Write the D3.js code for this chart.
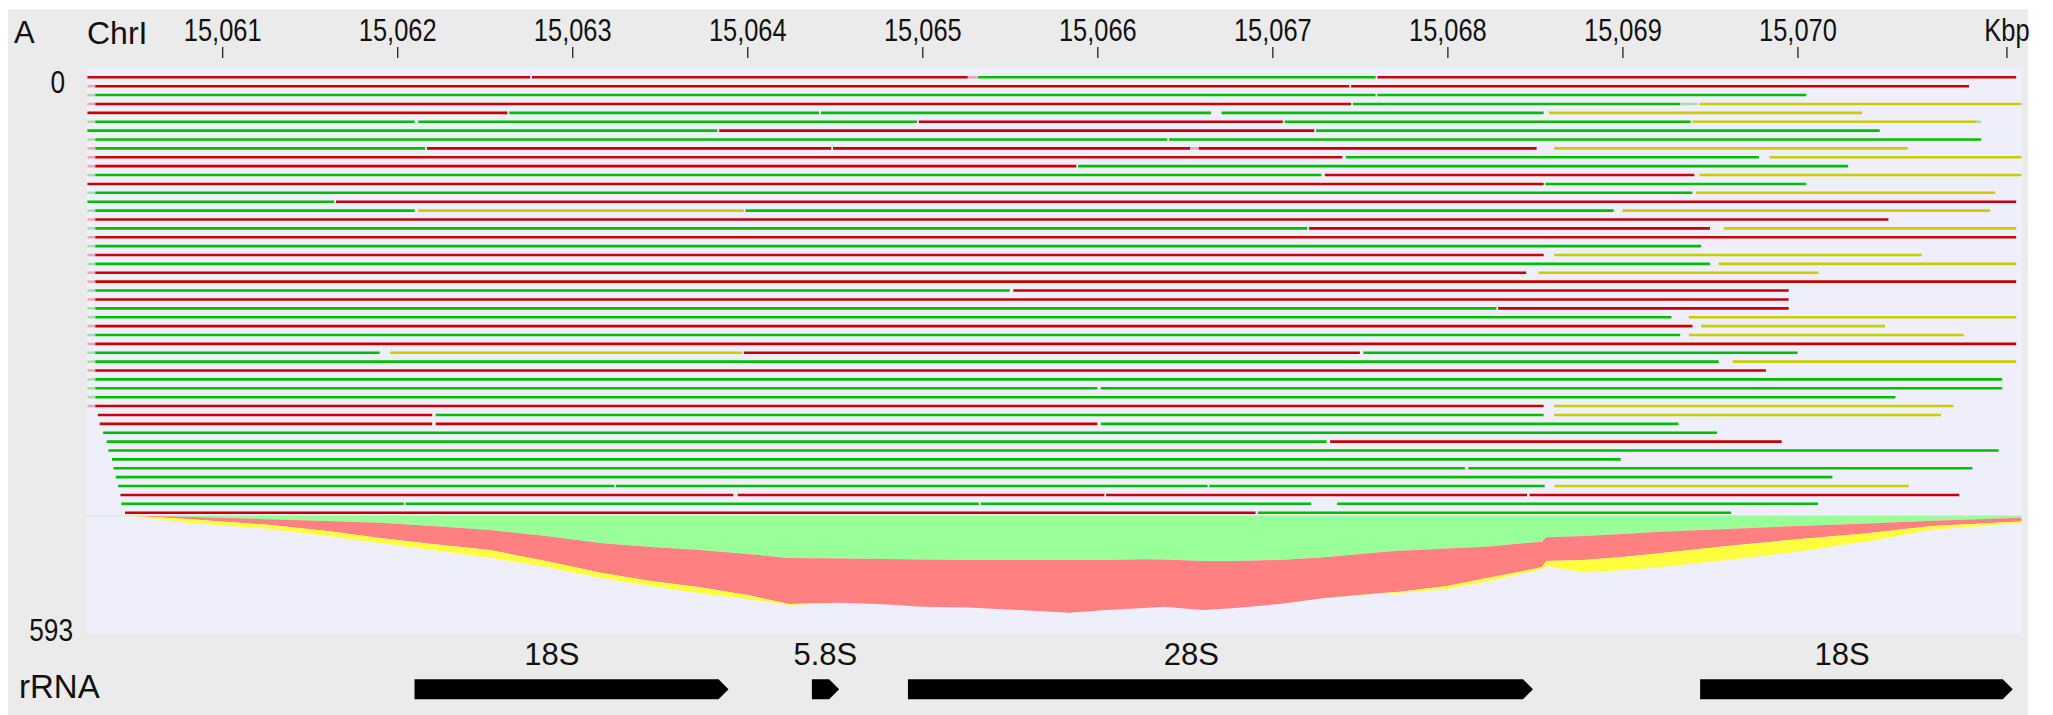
<!DOCTYPE html>
<html>
<head>
<meta charset="utf-8">
<script src="https://cdn.jsdelivr.net/npm/d3@7"></script>
<style>
  body { margin: 0; background: #fff; }
  svg { display: block; }
  text { font-family: "Liberation Sans", Arial, sans-serif; fill: #111; }
</style>
</head>
<body>
<div id="chart"></div>
<script>
// Read pileup over the rDNA repeat, drawn with D3

// Genomic positions are kept in kb after 15,060 kbp
const origin = 15060;
const xDomain = [0.226, 11.283];
const tickKb = [15061, 15062, 15063, 15064, 15065, 15066, 15067, 15068, 15069, 15070];
const endTickKb = 15071.194;
const yTicks = [0, 593];

// Individual read rows: [start, end, type]
// r = red, g = green, y = yellow, pr / pg = faint (clipped) part
const readRows = [
  [[0.23, 2.76, 'r'], [2.77, 5.26, 'r'], [5.26, 5.32, 'pr'], [5.32, 7.59, 'g'], [7.60, 11.25, 'r']],
  [[0.23, 0.275, 'pr'], [0.275, 7.44, 'r'], [7.45, 10.98, 'r']],
  [[0.23, 0.275, 'pg'], [0.275, 7.59, 'g'], [7.60, 10.05, 'g']],
  [[0.23, 0.275, 'pr'], [0.275, 7.45, 'r'], [7.46, 9.33, 'g'], [9.33, 9.43, 'pg'], [9.44, 11.28, 'y']],
  [[0.23, 2.63, 'r'], [2.64, 4.41, 'g'], [4.42, 6.65, 'g'], [6.71, 8.55, 'g'], [8.58, 10.37, 'y']],
  [[0.23, 0.275, 'pg'], [0.275, 2.10, 'g'], [2.12, 4.97, 'g'], [4.98, 7.06, 'r'], [7.07, 9.39, 'g'], [9.40, 11.02, 'y'], [11.02, 11.05, 'pg']],
  [[0.23, 3.83, 'g'], [3.84, 7.24, 'r'], [7.25, 10.47, 'g']],
  [[0.23, 0.275, 'pg'], [0.275, 6.40, 'g'], [6.41, 11.05, 'g']],
  [[0.23, 0.275, 'pr'], [0.275, 2.16, 'g'], [2.17, 4.48, 'r'], [4.49, 6.53, 'r'], [6.53, 6.58, 'pr'], [6.58, 8.51, 'r'], [8.61, 10.63, 'y']],
  [[0.23, 0.275, 'pr'], [0.275, 7.40, 'r'], [7.42, 9.78, 'g'], [9.84, 11.28, 'y']],
  [[0.23, 0.275, 'pr'], [0.275, 5.88, 'r'], [5.89, 10.29, 'g']],
  [[0.23, 0.275, 'pg'], [0.275, 7.28, 'g'], [7.30, 9.41, 'r'], [9.44, 11.28, 'y']],
  [[0.23, 8.55, 'r'], [8.56, 10.05, 'g']],
  [[0.23, 0.275, 'pg'], [0.275, 9.40, 'g'], [9.42, 11.13, 'y']],
  [[0.23, 1.64, 'g'], [1.65, 11.25, 'r']],
  [[0.23, 0.275, 'pg'], [0.275, 2.10, 'g'], [2.12, 3.98, 'y'], [3.99, 8.95, 'g'], [9.0, 11.10, 'y']],
  [[0.23, 0.275, 'pr'], [0.275, 10.52, 'r']],
  [[0.23, 0.275, 'pg'], [0.275, 7.20, 'g'], [7.21, 9.50, 'r'], [9.58, 11.25, 'y']],
  [[0.23, 0.275, 'pr'], [0.275, 11.25, 'r']],
  [[0.23, 0.275, 'pg'], [0.275, 9.45, 'g']],
  [[0.23, 0.275, 'pr'], [0.275, 8.55, 'r'], [8.61, 10.71, 'y']],
  [[0.23, 0.275, 'pg'], [0.275, 9.50, 'g'], [9.55, 11.25, 'y']],
  [[0.23, 0.275, 'pr'], [0.275, 8.45, 'r'], [8.52, 10.12, 'y']],
  [[0.23, 0.275, 'pr'], [0.275, 11.25, 'r']],
  [[0.23, 0.275, 'pg'], [0.275, 5.50, 'g'], [5.52, 9.95, 'r']],
  [[0.23, 0.275, 'pr'], [0.275, 9.95, 'r']],
  [[0.23, 0.275, 'pg'], [0.275, 8.28, 'g'], [8.29, 9.95, 'r']],
  [[0.23, 0.275, 'pg'], [0.275, 9.28, 'g'], [9.38, 11.25, 'y']],
  [[0.23, 0.275, 'pr'], [0.275, 9.40, 'r'], [9.45, 10.50, 'y']],
  [[0.23, 0.275, 'pg'], [0.275, 9.33, 'g'], [9.38, 10.95, 'y']],
  [[0.23, 0.275, 'pr'], [0.275, 11.25, 'r']],
  [[0.23, 0.275, 'pg'], [0.275, 1.90, 'g'], [1.96, 3.97, 'y'], [3.98, 7.50, 'r'], [7.52, 10.0, 'g']],
  [[0.23, 0.275, 'pg'], [0.275, 9.55, 'g'], [9.63, 11.25, 'y']],
  [[0.23, 0.275, 'pr'], [0.275, 9.82, 'r']],
  [[0.23, 0.275, 'pg'], [0.275, 11.17, 'g']],
  [[0.23, 0.275, 'pg'], [0.275, 6.0, 'g'], [6.02, 11.17, 'g']],
  [[0.23, 0.275, 'pg'], [0.275, 10.56, 'g']],
  [[0.23, 0.275, 'pr'], [0.275, 8.55, 'r'], [8.61, 10.89, 'y']],
  [[0.29, 2.20, 'r'], [2.22, 8.55, 'g'], [8.61, 10.82, 'y']],
  [[0.30, 2.20, 'r'], [2.22, 6.0, 'r'], [6.02, 9.32, 'g']],
  [[0.32, 9.54, 'g']],
  [[0.34, 7.31, 'g'], [7.33, 9.91, 'r']],
  [[0.35, 11.15, 'g']],
  [[0.37, 8.99, 'g']],
  [[0.38, 8.10, 'g'], [8.12, 11.0, 'g']],
  [[0.392, 10.2, 'g']],
  [[0.405, 3.24, 'g'], [3.25, 6.63, 'g'], [6.64, 8.556, 'g'], [8.613, 10.635, 'y']],
  [[0.419, 3.92, 'r'], [3.946, 6.04, 'r'], [6.05, 8.455, 'r'], [8.47, 10.925, 'r']],
  [[0.424, 2.038, 'g'], [2.048, 5.323, 'g'], [5.333, 7.222, 'g'], [7.37, 10.118, 'g']],
  [[0.445, 6.904, 'r'], [6.917, 9.621, 'g']]
];

// Compressed pileup below the rows: reads per colour at each position
const pileKb    = [0.47, 0.80, 1.26, 1.60, 1.90, 2.20, 2.53, 2.85, 3.17, 3.45, 3.73, 4.00, 4.24, 4.54, 4.80, 5.00, 5.26, 5.55, 5.84, 6.05, 6.27, 6.38, 6.60, 6.79, 7.04, 7.30, 7.63, 7.73, 8.00, 8.22, 8.54, 8.565, 8.78, 9.00, 9.24, 9.60, 10.00, 10.40, 10.77, 11.28];
const pileGreen = [0, 5, 16, 24, 32, 47, 66, 93, 127, 144, 157, 176, 194, 196, 199, 201, 203, 203, 203, 203, 200, 201, 208, 208, 203, 191, 167, 161, 151, 142, 119, 99, 93, 84, 73, 61, 47, 36, 23, 9];
const pileRed   = [0, 10, 26, 46, 70, 83, 92, 115, 136, 156, 171, 188, 211, 204, 209, 217, 218, 230, 242, 230, 224, 217, 225, 216, 202, 187, 188, 188, 172, 145, 118, 109, 110, 106, 97, 78, 61, 44, 24, 18];
const pileYellow= [0, 17, 18, 23, 23, 27, 35, 28, 24, 23, 28, 18, 5, 0, 0, 0, 0, 0, 0, 0, 0, 0, 0, 0, 0, 0, 2, 6, 14, 16, 9, 23, 58, 60, 64, 64, 57, 37, 18, 7];

// rRNA genes
const geneNames  = ['18S', '5.8S', '28S', '18S'];
const geneStarts = [15062.099, 15064.369, 15064.918, 15069.444];
const geneEnds   = [15063.893, 15064.525, 15068.489, 15071.230];
const geneLabelKb = [15062.884, 15064.446, 15066.537, 15070.255];

const readColors = { r: '#c80000', g: '#00bf00', y: '#cccc00', pr: '#e8aab2', pg: '#a9dea9' };
const pileColors = { green: '#99ff99', red: '#ff8080', yellow: '#ffff40' };

const W = 2053, H = 715;
const svg = d3.select('#chart').append('svg')
  .attr('width', W)
  .attr('height', H);

// backgrounds
svg.append('rect').attr('x', 8).attr('y', 9).attr('width', 2020).attr('height', 706).attr('fill', '#ebebeb');

const x = d3.scaleLinear()
  .domain(xDomain.map(d => origin + d))
  .range([86.7, 2022]);

// rows 0..49 are spread out, the rest of the 593 reads are squeezed below
const nRows = readRows.length;
const y = d3.scaleLinear()
  .domain([0, nRows - 1, nRows, 593])
  .range([77.3, 512.7, 515.7, 634]);

svg.append('rect')
  .attr('x', x.range()[0]).attr('y', 67.7)
  .attr('width', x.range()[1] - x.range()[0])
  .attr('height', y(593) - 67.7)
  .attr('fill', '#efeffb');

// compressed pileup as stacked areas
const pileData = pileKb.map((k, i) => ({ kb: origin + k, green: pileGreen[i], red: pileRed[i], yellow: pileYellow[i] }));
const stack = d3.stack().keys(['green', 'red', 'yellow']);
const area = d3.area()
  .x(d => x(d.data.kb))
  .y0(d => y(nRows + d[0]))
  .y1(d => y(nRows + d[1]));

svg.append('line')
  .attr('x1', x.range()[0]).attr('x2', x.range()[1])
  .attr('y1', y(nRows)).attr('y2', y(nRows))
  .attr('stroke', '#d4eed4').attr('stroke-width', 1);

svg.append('g').selectAll('path')
  .data(stack(pileData))
  .join('path')
  .attr('d', area)
  .attr('fill', d => pileColors[d.key]);

// read rows
const rowsG = svg.append('g');
readRows.forEach((row, i) => {
  rowsG.append('g')
    .selectAll('line')
    .data(row)
    .join('line')
    .attr('x1', d => x(origin + d[0]))
    .attr('x2', d => x(origin + d[1]))
    .attr('y1', y(i)).attr('y2', y(i))
    .attr('stroke', d => readColors[d[2]])
    .attr('stroke-width', 2.6);
});

// is a narrow face installed?
const ctx = document.createElement('canvas').getContext('2d');
ctx.font = '31px "Liberation Sans Narrow", monospace';
const wNarrow = ctx.measureText('15,061').width;
ctx.font = '31px monospace';
const wMono = ctx.measureText('15,061').width;
const hasNarrow = Math.abs(wNarrow - wMono) > 0.5;
const narrowFont = hasNarrow ? '"Liberation Sans Narrow"' : '"Liberation Sans", Arial, sans-serif';

// top axis
const xAxis = d3.axisTop(x)
  .tickValues(tickKb.concat([endTickKb]))
  .tickSize(11)
  .tickPadding(6)
  .tickFormat(d => d === endTickKb ? 'Kbp' : d3.format(',')(d));

const axG = svg.append('g')
  .attr('transform', 'translate(0, 58)')
  .call(xAxis);
axG.select('.domain').remove();
axG.selectAll('line').attr('stroke', '#222').attr('stroke-width', 1.3);
axG.selectAll('text')
  .attr('font-size', 31)
  .style('font-family', narrowFont)
  .attr('fill', '#111')
  .classed('narrow', true);

// y labels
svg.append('g').selectAll('text')
  .data(yTicks)
  .join('text')
  .attr('class', 'narrow')
  .attr('x', (d, i) => i === 0 ? 65 : 73)
  .attr('y', (d, i) => y(d) + (i === 0 ? 16 : 7))
  .attr('text-anchor', 'end')
  .attr('font-size', 32)
  .style('font-family', narrowFont)
  .text(d => d);

// panel titles
svg.append('text').attr('x', 14).attr('y', 43).attr('font-size', 31).text('A');
svg.append('text').attr('x', 87).attr('y', 44).attr('font-size', 32).text('ChrI');
svg.append('text').attr('x', 19).attr('y', 698).attr('font-size', 33).text('rRNA');

// gene arrows
const genes = geneNames.map((n, i) => ({ name: n, start: geneStarts[i], end: geneEnds[i], label: geneLabelKb[i] }));
const gTop = 679.3, gBot = 699.3, tip = 10;
const geneG = svg.append('g');
geneG.selectAll('path')
  .data(genes)
  .join('path')
  .attr('d', d => {
    const x0 = x(d.start), x1 = x(d.end);
    const xb = Math.max(x0, x1 - tip);
    return `M${x0},${gTop}L${xb},${gTop}L${x1},${(gTop + gBot) / 2}L${xb},${gBot}L${x0},${gBot}Z`;
  })
  .attr('fill', '#000');
geneG.selectAll('text')
  .data(genes)
  .join('text')
  .attr('x', d => x(d.label))
  .attr('y', 665)
  .attr('text-anchor', 'middle')
  .attr('font-size', 31)
  .text(d => d.name);

// without a narrow face, squeeze the axis labels instead
if (!hasNarrow) {
  svg.selectAll('text.narrow').each(function () {
    const len = this.getComputedTextLength();
    d3.select(this)
      .attr('textLength', len * 0.82)
      .attr('lengthAdjust', 'spacingAndGlyphs');
  });
}
</script>
</body>
</html>
